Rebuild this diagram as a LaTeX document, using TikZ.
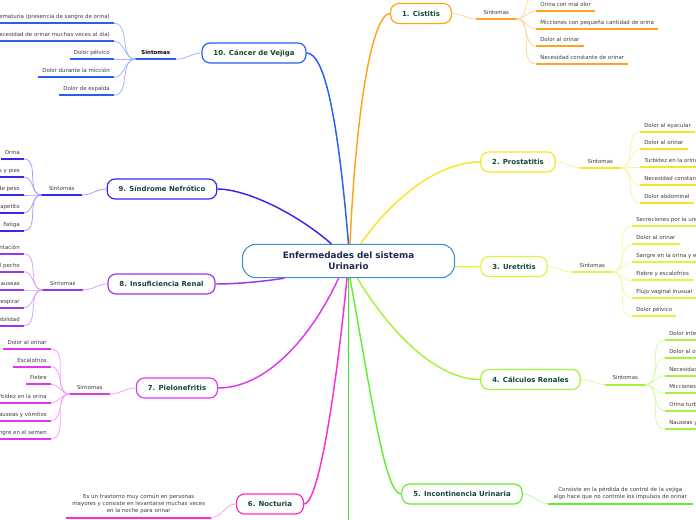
\documentclass[tikz,border=0pt]{standalone}
\usepackage{fontspec}
\setmainfont{DejaVu Sans}
\usepackage{tikz}

\definecolor{cRoot}{RGB}{60,145,210}
\definecolor{cRootTxt}{RGB}{28,42,80}
\definecolor{cTopTxt}{RGB}{18,70,60}
\definecolor{cLeafTxt}{RGB}{60,60,60}
\definecolor{cCis}{RGB}{255,163,26}
\definecolor{cPro}{RGB}{250,228,40}
\definecolor{cUre}{RGB}{222,245,60}
\definecolor{cCal}{RGB}{166,242,60}
\definecolor{cInc}{RGB}{100,238,50}
\definecolor{cVer}{RGB}{60,232,30}
\definecolor{cNoc}{RGB}{255,45,205}
\definecolor{cPie}{RGB}{222,55,240}
\definecolor{cIns}{RGB}{155,55,240}
\definecolor{cSin}{RGB}{55,40,235}
\definecolor{cCan}{RGB}{40,95,240}

\tikzset{
  uline/.style={append after command={(\tikzlastnode.south west) edge[draw=#1, line width=1.5pt] (\tikzlastnode.south east)}},
  txt/.style={font=\fontsize{4.1}{5}\selectfont, text=cLeafTxt, inner xsep=3pt, inner ysep=2.4pt},
}

\begin{document}
\begin{tikzpicture}[x=0.75pt,y=0.75pt,yscale=-1,xscale=1,
  root/.style={draw=cRoot, line width=0.8pt, rounded corners=10pt, fill=white, align=center, minimum width=159pt, minimum height=25pt, inner sep=0pt, text=cRootTxt, font=\fontsize{6.6}{8.3}\selectfont\bfseries},
  topic/.style={draw=#1, line width=0.9pt, rounded corners=6pt, fill=white, minimum height=15pt, inner xsep=8.6pt, inner ysep=0pt, text=cTopTxt, font=\fontsize{5.2}{6}\selectfont\bfseries},
  branch/.style={draw=#1, line width=1.1pt},
  twig/.style={draw=#1!45, line width=0.6pt},
  leaf/.style={txt, uline=#1, text height=3.1pt, text depth=0.9pt},
  sint/.style={leaf=#1, minimum width=30pt, inner xsep=0pt},
  note/.style={txt, uline=#1, align=center, minimum width=108pt, font=\fontsize{4.1}{5.4}\selectfont}
]
\useasboundingbox (0,0) rectangle (696,520);
\clip (0,0) rectangle (696,520);

%Central topic
\node[root] (root) at (348.5,261) {Enfermedades del sistema\\Urinario};

%Main topics
\node[topic=cCis] (cis) at (421,13.5) {1. Cistitis};
\node[topic=cPro] (pro) at (518,162) {2. Prostatitis};
\node[topic=cUre] (ure) at (514,266.5) {3. Uretritis};
\node[topic=cCal] (cal) at (530.5,379.5) {4. Cálculos Renales};
\node[topic=cInc] (inc) at (462,494) {5. Incontinencia Urinaria};
\node[topic=cNoc] (noc) at (270,504) {6. Nocturia};
\node[topic=cPie] (pie) at (177,388) {7. Pielonefritis};
\node[topic=cIns] (ins) at (161.5,284) {8. Insuficiencia Renal};
\node[topic=cSin] (sin) at (162,189) {9. Síndrome Nefrótico};
\node[topic=cCan] (can) at (254,53) {10. Cáncer de Vejiga};
\coordinate (rootEnd) at (348.5,522);

%Branches from the central topic
\draw[branch=cCan] (root.north) .. controls (338,120) and (325,53) .. (can.east);
\draw[branch=cCis] (root.85) .. controls (356,110) and (372,14) .. (cis.west);
\draw[branch=cPro] (root.55) .. controls (395,195) and (440,162) .. (pro.west);
\draw[branch=cUre] (root.-3) -- (ure.west);
\draw[branch=cCal] (root.297) .. controls (395,340) and (440,379.5) .. (cal.west);
\draw[branch=cInc] (root.275) .. controls (372,400) and (385,494) .. (inc.west);
\draw[branch=cVer] (root.south) -- (rootEnd);
\draw[branch=cNoc] (root.265) .. controls (335,400) and (318,504) .. (noc.east);
\draw[branch=cPie] (root.240) .. controls (310,340) and (265,388) .. (pie.east);
\draw[branch=cIns] (root.195) .. controls (260,282) and (235,284) .. (ins.east);
\draw[branch=cSin] (root.135) .. controls (295,212) and (245,189) .. (sin.east);

%1. Cistitis
\node[sint=cCis, anchor=south west] (cisS) at (476,19) {Síntomas};
\draw[twig=cCis] (cis.east) to[out=0,in=180] (cisS.south west);
\coordinate (cisTop) at (536,-6.7);
\node[leaf=cCis, anchor=south west] (cisA) at (536,11) {Orina con mal olor};
\node[leaf=cCis, anchor=south west] (cisB) at (536,28.7) {Micciones con pequeña cantidad de orina};
\node[leaf=cCis, anchor=south west] (cisC) at (536,46.3) {Dolor al orinar};
\node[leaf=cCis, anchor=south west] (cisD) at (536,64) {Necesidad constante de orinar};
\draw[twig=cCis] (cisS.south east) to[out=0,in=180] (cisTop);
\draw[twig=cCis] (cisS.south east) to[out=0,in=180] (cisA.south west);
\draw[twig=cCis] (cisS.south east) to[out=0,in=180] (cisB.south west);
\draw[twig=cCis] (cisS.south east) to[out=0,in=180] (cisC.south west);
\draw[twig=cCis] (cisS.south east) to[out=0,in=180] (cisD.south west);

%2. Prostatitis
\node[sint=cPro, anchor=south west] (proS) at (580,167.7) {Síntomas};
\draw[twig=cPro] (pro.east) to[out=0,in=180] (proS.south west);
\node[leaf=cPro, anchor=south west] (proA) at (640,131.7) {Dolor al eyacular};
\node[leaf=cPro, anchor=south west] (proB) at (640,149.5) {Dolor al orinar};
\node[leaf=cPro, anchor=south west] (proC) at (640,167.5) {Turbidez en la orina};
\node[leaf=cPro, anchor=south west] (proD) at (640,185.3) {Necesidad constante de orinar};
\node[leaf=cPro, anchor=south west] (proE) at (640,203) {Dolor abdominal};
\draw[twig=cPro] (proS.south east) to[out=0,in=180] (proA.south west);
\draw[twig=cPro] (proS.south east) to[out=0,in=180] (proB.south west);
\draw[twig=cPro] (proS.south east) to[out=0,in=180] (proC.south west);
\draw[twig=cPro] (proS.south east) to[out=0,in=180] (proD.south west);
\draw[twig=cPro] (proS.south east) to[out=0,in=180] (proE.south west);

%3. Uretritis
\node[sint=cUre, anchor=south west] (ureS) at (572,272) {Síntomas};
\draw[twig=cUre] (ure.east) to[out=0,in=180] (ureS.south west);
\node[leaf=cUre, anchor=south west] (ureA) at (632,226) {Secreciones por la uretra};
\node[leaf=cUre, anchor=south west] (ureB) at (632,244.5) {Dolor al orinar};
\node[leaf=cUre, anchor=south west] (ureC) at (632,262) {Sangre en la orina y el semen};
\node[leaf=cUre, anchor=south west] (ureD) at (632,280.5) {Fiebre y escalofríos};
\node[leaf=cUre, anchor=south west] (ureE) at (632,298.5) {Flujo vaginal inusual};
\node[leaf=cUre, anchor=south west] (ureF) at (632,316.5) {Dolor pélvico};
\draw[twig=cUre] (ureS.south east) to[out=0,in=180] (ureA.south west);
\draw[twig=cUre] (ureS.south east) to[out=0,in=180] (ureB.south west);
\draw[twig=cUre] (ureS.south east) to[out=0,in=180] (ureC.south west);
\draw[twig=cUre] (ureS.south east) to[out=0,in=180] (ureD.south west);
\draw[twig=cUre] (ureS.south east) to[out=0,in=180] (ureE.south west);
\draw[twig=cUre] (ureS.south east) to[out=0,in=180] (ureF.south west);

%4. Calculos Renales
\node[sint=cCal, anchor=south west] (calS) at (605,384.5) {Síntomas};
\draw[twig=cCal] (cal.east) to[out=0,in=180] (calS.south west);
\node[leaf=cCal, anchor=south west] (calA) at (665,340) {Dolor intenso};
\node[leaf=cCal, anchor=south west] (calB) at (665,357.7) {Dolor al orinar};
\node[leaf=cCal, anchor=south west] (calC) at (665,375.7) {Necesidad constante de orinar};
\node[leaf=cCal, anchor=south west] (calD) at (665,393.3) {Micciones frecuentes};
\node[leaf=cCal, anchor=south west] (calE) at (665,411) {Orina turbia};
\node[leaf=cCal, anchor=south west] (calF) at (665,429) {Nauseas y vómitos};
\draw[twig=cCal] (calS.south east) to[out=0,in=180] (calA.south west);
\draw[twig=cCal] (calS.south east) to[out=0,in=180] (calB.south west);
\draw[twig=cCal] (calS.south east) to[out=0,in=180] (calC.south west);
\draw[twig=cCal] (calS.south east) to[out=0,in=180] (calD.south west);
\draw[twig=cCal] (calS.south east) to[out=0,in=180] (calE.south west);
\draw[twig=cCal] (calS.south east) to[out=0,in=180] (calF.south west);

%5. Incontinencia Urinaria
\node[note=cInc, anchor=south west] (incA) at (548,503.5) {Consiste en la pérdida de control de la vejiga\\algo hace que no controle los impulsos de orinar};
\draw[twig=cInc] (inc.east) to[out=0,in=180] (incA.south west);

%6. Nocturia
\node[note=cNoc, anchor=south east] (nocA) at (211,517.5) {Es un trastorno muy común en personas\\mayores y consiste en levantarse muchas veces\\en la noche para orinar};
\draw[twig=cNoc] (noc.west) to[out=180,in=0] (nocA.south east);

%7. Pielonefritis
\node[sint=cPie, anchor=south east] (pieS) at (110,394) {Síntomas};
\draw[twig=cPie] (pie.west) to[out=180,in=0] (pieS.south east);
\node[leaf=cPie, anchor=south east] (pieA) at (51,349) {Dolor al orinar};
\node[leaf=cPie, anchor=south east] (pieB) at (51,366.7) {Escalofríos};
\node[leaf=cPie, anchor=south east] (pieC) at (51,384.3) {Fiebre};
\node[leaf=cPie, anchor=south east] (pieD) at (51,402.7) {Turbidez en la orina};
\node[leaf=cPie, anchor=south east] (pieE) at (51,420.7) {Nauseas y vómitos};
\node[leaf=cPie, anchor=south east] (pieF) at (51,438.7) {Sangre en el semen};
\draw[twig=cPie] (pieS.south west) to[out=180,in=0] (pieA.south east);
\draw[twig=cPie] (pieS.south west) to[out=180,in=0] (pieB.south east);
\draw[twig=cPie] (pieS.south west) to[out=180,in=0] (pieC.south east);
\draw[twig=cPie] (pieS.south west) to[out=180,in=0] (pieD.south east);
\draw[twig=cPie] (pieS.south west) to[out=180,in=0] (pieE.south east);
\draw[twig=cPie] (pieS.south west) to[out=180,in=0] (pieF.south east);

%8. Insuficiencia Renal
\node[sint=cIns, anchor=south east] (insS) at (83,290) {Síntomas};
\draw[twig=cIns] (ins.west) to[out=180,in=0] (insS.south east);
\node[leaf=cIns, anchor=south east] (insA) at (24,254) {Desorientación};
\node[leaf=cIns, anchor=south east] (insB) at (24,271.7) {Dolor en el pecho};
\node[leaf=cIns, anchor=south east] (insC) at (24,290) {Nauseas};
\node[leaf=cIns, anchor=south east] (insD) at (24,307.7) {Dificultad para respirar};
\node[leaf=cIns, anchor=south east] (insE) at (24,325.7) {Debilidad};
\draw[twig=cIns] (insS.south west) to[out=180,in=0] (insA.south east);
\draw[twig=cIns] (insS.south west) to[out=180,in=0] (insB.south east);
\draw[twig=cIns] (insS.south west) to[out=180,in=0] (insC.south east);
\draw[twig=cIns] (insS.south west) to[out=180,in=0] (insD.south east);
\draw[twig=cIns] (insS.south west) to[out=180,in=0] (insE.south east);

%9. Sindrome Nefrotico
\node[sint=cSin, anchor=south east] (sinS) at (82,195) {Síntomas};
\draw[twig=cSin] (sin.west) to[out=180,in=0] (sinS.south east);
\node[leaf=cSin, anchor=south east] (sinA) at (24,159) {Orina};
\node[leaf=cSin, anchor=south east] (sinB) at (24,177) {Hinchazón en tobillos y pies};
\node[leaf=cSin, anchor=south east] (sinC) at (24,195) {Aumento de peso};
\node[leaf=cSin, anchor=south east] (sinD) at (24,212.7) {Pérdida de apetito};
\node[leaf=cSin, anchor=south east] (sinE) at (24,230.7) {Fatiga};
\draw[twig=cSin] (sinS.south west) to[out=180,in=0] (sinA.south east);
\draw[twig=cSin] (sinS.south west) to[out=180,in=0] (sinB.south east);
\draw[twig=cSin] (sinS.south west) to[out=180,in=0] (sinC.south east);
\draw[twig=cSin] (sinS.south west) to[out=180,in=0] (sinD.south east);
\draw[twig=cSin] (sinS.south west) to[out=180,in=0] (sinE.south east);

%10. Cancer de Vejiga
\node[sint=cCan, anchor=south east, text=black] (canS) at (176,59.3) {\bfseries Síntomas};
\draw[twig=cCan] (can.west) to[out=180,in=0] (canS.south east);
\node[leaf=cCan, anchor=south east] (canA) at (114,23.3) {Hematuria (presencia de sangre de orina)};
\node[leaf=cCan, anchor=south east] (canB) at (114,41.3) {Polaquiuria (necesidad de orinar muchas veces al día)};
\node[leaf=cCan, anchor=south east] (canC) at (114,59.3) {Dolor pélvico};
\node[leaf=cCan, anchor=south east] (canD) at (114,77.3) {Dolor durante la micción};
\node[leaf=cCan, anchor=south east] (canE) at (114,95.3) {Dolor de espalda};
\draw[twig=cCan] (canS.south west) to[out=180,in=0] (canA.south east);
\draw[twig=cCan] (canS.south west) to[out=180,in=0] (canB.south east);
\draw[twig=cCan] (canS.south west) to[out=180,in=0] (canC.south east);
\draw[twig=cCan] (canS.south west) to[out=180,in=0] (canD.south east);
\draw[twig=cCan] (canS.south west) to[out=180,in=0] (canE.south east);

\end{tikzpicture}
\end{document}
